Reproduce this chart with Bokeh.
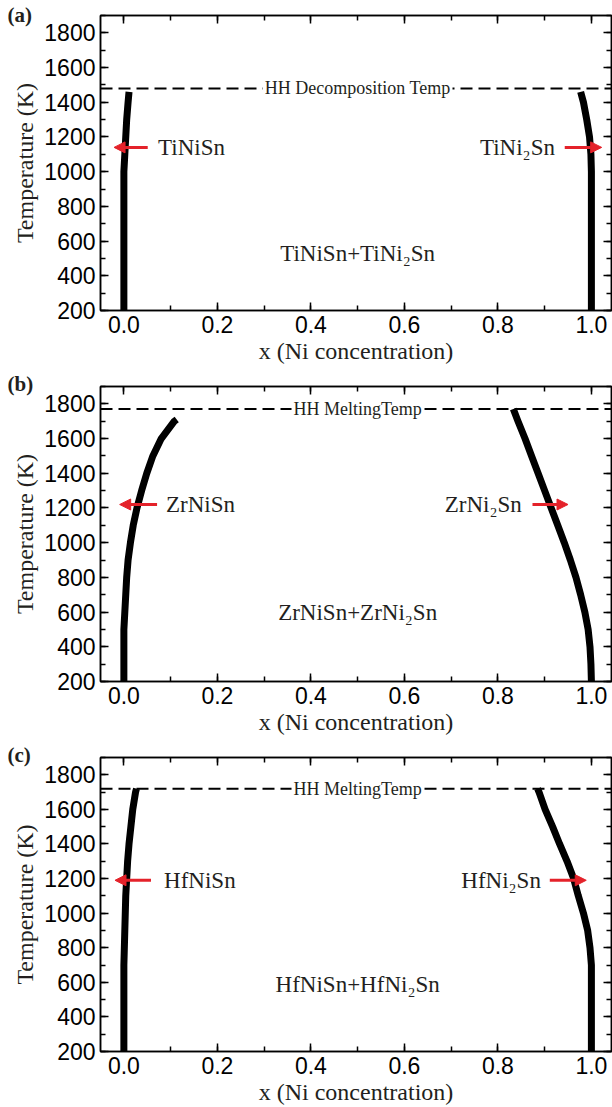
from bokeh.plotting import figure
from bokeh.layouts import column
from bokeh.models import (Range1d, LinearAxis, SingleIntervalTicker, Label, Arrow, Title,
                          NormalHead, Span, PrintfTickFormatter, CustomJSTickFormatter)
from bokeh.embed import file_html
from bokeh.resources import INLINE

# ---------------- data ----------------
# (a) Ti system
T_a = [200, 300, 400, 500, 600, 700, 800, 900, 1000, 1100, 1200, 1300, 1400, 1460]
x_a_left = [0.0, 0.0, 0.0, 0.0, 0.0, 0.0, 0.0, 0.0, 0.0, 0.002, 0.004, 0.006, 0.009, 0.011]
x_a_right = [1.0, 1.0, 1.0, 1.0, 1.0, 1.0, 1.0, 1.0, 1.0, 0.999, 0.996, 0.990, 0.983, 0.977]
T_a_line = 1480

# (b) Zr system
T_b_left = [200, 300, 400, 500, 600, 700, 800, 900, 1000, 1100, 1200, 1300, 1400, 1500, 1600, 1700, 1710]
x_b_left = [0.0, 0.0, 0.0, 0.0, 0.002, 0.004, 0.006, 0.009, 0.014, 0.020, 0.028, 0.038, 0.049, 0.062, 0.080, 0.108, 0.113]
T_b_right = [200, 300, 400, 500, 600, 700, 800, 900, 1000, 1100, 1200, 1300, 1400, 1500, 1600, 1700, 1770]
x_b_right = [1.0, 0.999, 0.997, 0.993, 0.986, 0.977, 0.967, 0.955, 0.942, 0.928, 0.914, 0.900, 0.886, 0.872, 0.858, 0.843, 0.833]
T_b_line = 1770

# (c) Hf system
T_c = [200, 300, 400, 500, 600, 700, 800, 900, 1000, 1100, 1200, 1300, 1400, 1500, 1600, 1700, 1720]
x_c_left = [0.0, 0.0, 0.0, 0.0, 0.0, 0.0, 0.001, 0.002, 0.003, 0.004, 0.006, 0.008, 0.011, 0.015, 0.019, 0.025, 0.027]
x_c_right = [1.0, 1.0, 1.0, 1.0, 1.0, 1.0, 0.997, 0.992, 0.983, 0.972, 0.962, 0.948, 0.932, 0.917, 0.901, 0.888, 0.885]
T_c_line = 1720

panel_tags = ["(a)", "(b)", "(c)"]
line_texts = ["HH Decomposition Temp", "HH MeltingTemp", "HH MeltingTemp"]
left_names = ["TiNiSn", "ZrNiSn", "HfNiSn"]
right_names = ["TiNi\u2082Sn", "ZrNi\u2082Sn", "HfNi\u2082Sn"]
mid_texts = ["TiNiSn+TiNi\u2082Sn", "ZrNiSn+ZrNi\u2082Sn", "HfNiSn+HfNi\u2082Sn"]
arrow_T = [1140, 1220, 1190]
mid_T = [530, 600, 590]

SERIF = "Liberation Serif"
SANS = "Liberation Sans"
RED = "#e4222a"
INK = "#231f20"


def style_axis(ax, labels=True):
    ax.axis_line_width = 1.5
    ax.axis_line_color = "black"
    ax.major_tick_in = 8
    ax.major_tick_out = 0
    ax.minor_tick_in = 5
    ax.minor_tick_out = 0
    ax.major_tick_line_width = 1.5
    ax.minor_tick_line_width = 1.5
    ax.major_tick_line_color = "black"
    ax.minor_tick_line_color = "black"
    if labels:
        ax.major_label_text_font = SANS
        ax.major_label_text_font_size = "23px"
        ax.major_label_text_color = "black"
        ax.axis_label_text_font = SERIF
        ax.axis_label_text_font_size = "24px"
        ax.axis_label_text_font_style = "normal"
        ax.axis_label_text_color = INK
    else:
        ax.formatter = CustomJSTickFormatter(code="return ''")
        ax.major_label_text_color = None
        ax.major_label_text_font_size = "0px"
        ax.major_label_standoff = 0


def make_tag(i, standoff):
    kw = dict(text=panel_tags[i], align="left", offset=-93,
              text_font=SERIF, text_font_size="21px", text_font_style="bold",
              text_color=INK, vertical_align="middle")
    try:
        return Title(standoff=standoff, **kw)
    except Exception:
        return Title(standoff=0, **kw)


def make_panel(i, TL, XL, TR, XR, T_line, arr, height, bottom, tag_standoff):
    p = figure(width=612, height=height, x_range=Range1d(-0.05, 1.043),
               y_range=Range1d(200, 1900), output_backend="svg",
               toolbar_location=None, min_border_left=100, min_border_right=1,
               min_border_top=15, min_border_bottom=bottom,
               title=make_tag(i, tag_standoff))
    p.xgrid.visible = False
    p.ygrid.visible = False
    p.outline_line_color = "black"
    p.outline_line_width = 1.5
    p.background_fill_color = "white"

    p.xaxis.ticker = SingleIntervalTicker(interval=0.2, num_minor_ticks=2)
    p.yaxis.ticker = SingleIntervalTicker(interval=200, num_minor_ticks=2)
    p.xaxis.formatter = PrintfTickFormatter(format="%.1f")
    p.xaxis.axis_label = "x (Ni concentration)"
    p.yaxis.axis_label = "Temperature (K)"
    style_axis(p.xaxis[0])
    style_axis(p.yaxis[0])
    p.xaxis.major_label_standoff = 5
    p.xaxis.axis_label_standoff = 2
    p.yaxis.major_label_standoff = 5
    p.yaxis.axis_label_standoff = 3

    top = LinearAxis(ticker=SingleIntervalTicker(interval=0.2, num_minor_ticks=2))
    style_axis(top, labels=False)
    p.add_layout(top, "above")
    right = LinearAxis(ticker=SingleIntervalTicker(interval=200, num_minor_ticks=2))
    style_axis(right, labels=False)
    p.add_layout(right, "right")

    # decomposition / melting temperature line
    p.add_layout(Span(location=T_line, dimension="width", line_color="black",
                      line_width=2, line_dash="12 6"))
    p.add_layout(Label(x=0.5, y=T_line, text=line_texts[i], text_align="center",
                       text_baseline="middle", text_font=SERIF, text_font_size="18px",
                       text_color=INK, background_fill_color="white", padding=2))

    # phase boundaries
    p.line(XL, TL, line_color="black", line_width=7, line_join="round")
    p.line(XR, TR, line_color="black", line_width=7, line_join="round")

    # arrows and labels
    la0, la1, ra0, ra1, lx, rx = arr
    Ta = arrow_T[i]
    p.add_layout(Arrow(end=NormalHead(size=11, fill_color=RED, line_color=RED),
                       x_start=la0, y_start=Ta, x_end=la1, y_end=Ta,
                       line_color=RED, line_width=3))
    p.add_layout(Arrow(end=NormalHead(size=11, fill_color=RED, line_color=RED),
                       x_start=ra0, y_start=Ta, x_end=ra1, y_end=Ta,
                       line_color=RED, line_width=3))
    p.add_layout(Label(x=lx, y=Ta, text=left_names[i], text_align="left",
                       text_baseline="middle", text_font=SERIF, text_font_size="23px",
                       text_color=INK))
    p.add_layout(Label(x=rx, y=Ta, text=right_names[i], text_align="right",
                       text_baseline="middle", text_font=SERIF, text_font_size="23px",
                       text_color=INK))
    p.add_layout(Label(x=0.5, y=mid_T[i], text=mid_texts[i], text_align="center",
                       text_baseline="middle", text_font=SERIF, text_font_size="23px",
                       text_color=INK))
    return p


p1 = make_panel(0, T_a, x_a_left, T_a, x_a_right, T_a_line,
                (0.051, -0.021, 0.943, 1.022, 0.073, 0.922), 371, 61, -25)
p2 = make_panel(1, T_b_left, x_b_left, T_b_right, x_b_right, T_b_line,
                (0.071, -0.009, 0.874, 0.950, 0.090, 0.851), 371, 61, -20)
p3 = make_panel(2, T_c, x_c_left, T_c, x_c_right, T_c_line,
                (0.058, -0.019, 0.911, 0.989, 0.086, 0.892), 365, 55, -20)

layout = column(p1, p2, p3, spacing=0)
open("out.html", "w").write(file_html(layout, INLINE))
